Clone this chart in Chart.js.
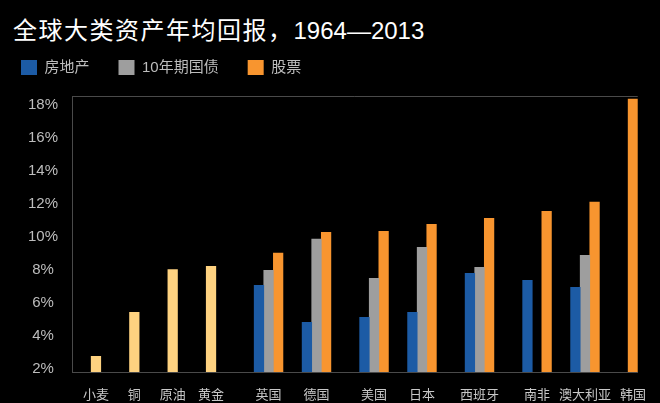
<!DOCTYPE html>
<html>
<head>
<meta charset="utf-8">
<script src="https://cdn.jsdelivr.net/npm/chart.js@4/dist/chart.umd.min.js"></script>
<style>
  html, body { margin: 0; padding: 0; background: #000; overflow: hidden; }
  body { width: 660px; height: 403px; position: relative; }
  #title {
    position: absolute; left: 13px; top: 15px;
    color: #fff; font-size: 24px; line-height: 28px; white-space: nowrap;
    font-family: "Liberation Sans", "Noto Sans CJK SC", sans-serif;
  }
  #title .cjk { letter-spacing: 1.5px; font-family: "Noto Sans CJK SC", sans-serif; }
  #wrap { position: absolute; left: -8px; top: 0; width: 668px; height: 403px; }
</style>
</head>
<body>
<div id="title"><span class="cjk">全球大类资产年均回报，</span>1964—2013</div>
<div id="wrap"><canvas id="c"></canvas></div>
<script>
// average annual return by asset, %
const categories = ['小麦', '铜', '原油', '黄金', '英国', '德国', '美国', '日本', '西班牙', '南非', '澳大利亚', '韩国'];
const commodity  = [2.73, 5.41, 8.0, 8.2, null, null, null, null, null, null, null, null];
const realEstate = [null, null, null, null, 7.05, 4.8, 5.1, 5.4, 7.78, 7.35, 6.93, null];
const bonds      = [null, null, null, null, 7.96, 9.85, 7.47, 9.36, 8.14, null, 8.87, null];
const stocks     = [null, null, null, null, 9.0, 10.27, 10.33, 10.76, 11.12, 11.55, 12.1, 18.36];
const yTicks = [2, 4, 6, 8, 10, 12, 14, 16, 18];

// layout: empty slots placed before each category (one slot = one bar width)
const gapsBefore = [2, 3, 3, 3, 4, 2, 3, 2, 3, 3, 2, 1];

const COLORS = { realEstate: '#1c5ba5', bonds: '#9e9e9e', stocks: '#f8952f', commodity: '#fed280' };
const AXIS = '#4a4a4a';

// expand categories into one category slot per bar
const slotLabels = [], sCommodity = [], sRealEstate = [], sBonds = [], sStocks = [];
function pushSlot(label, c, r, b, s) {
    slotLabels.push(label);
    sCommodity.push(c); sRealEstate.push(r); sBonds.push(b); sStocks.push(s);
}
categories.forEach((name, i) => {
    for (let g = 0; g < gapsBefore[i]; g++) pushSlot('', null, null, null, null);
    if (commodity[i] != null) {
        pushSlot(name, commodity[i], null, null, null);
        return;
    }
    const vals = [realEstate[i], bonds[i], stocks[i]];
    const present = vals.map((v, k) => v != null ? k : -1).filter(k => k >= 0);
    const labelAt = Math.round(present.reduce((a, b) => a + b, 0) / present.length);
    vals.forEach((v, k) => pushSlot(k === labelAt ? name : '', null,
        k === 0 ? v : null, k === 1 ? v : null, k === 2 ? v : null));
});

function barSet(label, data, color) {
    return { label, data, backgroundColor: color, grouped: false,
             categoryPercentage: 1, barPercentage: 1, borderWidth: 0 };
}

// extra room under the legend
const legendSpace = {
    id: 'legendSpace',
    beforeInit(chart) {
        const fit = chart.legend.fit;
        chart.legend.fit = function () { fit.bind(chart.legend)(); this.height += 11; };
    }
};
// top frame line
const topLine = {
    id: 'topLine',
    afterDraw(chart) {
        const { ctx, chartArea: a } = chart;
        ctx.save();
        ctx.strokeStyle = AXIS; ctx.lineWidth = 1;
        ctx.beginPath(); ctx.moveTo(a.left, a.top + 0.5); ctx.lineTo(a.right, a.top + 0.5); ctx.stroke();
        ctx.restore();
    }
};

new Chart(document.getElementById('c').getContext('2d'), {
    type: 'bar',
    data: {
        labels: slotLabels,
        datasets: [
            barSet('房地产', sRealEstate, COLORS.realEstate),
            barSet('10年期国债', sBonds, COLORS.bonds),
            barSet('股票', sStocks, COLORS.stocks),
            barSet('大宗商品', sCommodity, COLORS.commodity)
        ]
    },
    options: {
        responsive: true,
        maintainAspectRatio: false,
        animation: false,
        layout: { padding: { top: 31, right: 8, left: 0, bottom: 0 } },
        plugins: {
            legend: {
                position: 'top', align: 'start',
                labels: {
                    color: '#bdbdbd', boxWidth: 16, boxHeight: 15, padding: 29,
                    font: { size: 15, family: '"Liberation Sans", "Noto Sans CJK SC", sans-serif' },
                    filter: item => item.datasetIndex !== 3
                }
            },
            tooltip: { enabled: false }
        },
        scales: {
            x: {
                grid: { display: false, drawTicks: false },
                border: { color: AXIS, width: 1 },
                afterFit: axis => { axis.height = 31; },
                ticks: {
                    autoSkip: false, maxRotation: 0, padding: 14, color: '#c8c8c8',
                    font: { size: 13, family: '"Noto Sans CJK SC", sans-serif' }
                }
            },
            y: {
                min: 1.78, max: 18.55,
                grid: { display: false, drawTicks: false },
                border: { color: AXIS, width: 1 },
                afterBuildTicks: axis => { axis.ticks = yTicks.map(v => ({ value: v })); },
                afterFit: axis => { axis.width = 80; },
                ticks: {
                    crossAlign: 'center', padding: 14, color: '#bdbdbd',
                    font: { size: 15, family: '"Liberation Sans", sans-serif' },
                    callback: v => v + '%'
                }
            }
        }
    },
    plugins: [legendSpace, topLine]
});
</script>
</body>
</html>
